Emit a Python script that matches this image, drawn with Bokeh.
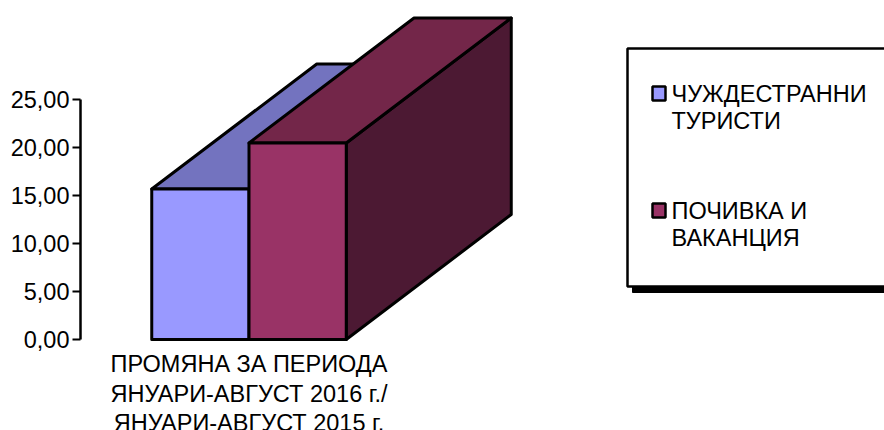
from bokeh.plotting import figure
from bokeh.models import Range1d, Label, BoxAnnotation, FixedTicker
from bokeh.embed import file_html
from bokeh.resources import INLINE

# Data
series_names = ["ЧУЖДЕСТРАННИ ТУРИСТИ", "ПОЧИВКА И ВАКАНЦИЯ"]
series_values = [15.68, 20.47]
front_colors = ["#9999FF", "#993366"]
top_colors = ["#7373BF", "#732649"]
side_colors = ["#4C264C", "#4C1933"]
tick_values = [0, 5, 10, 15, 20, 25]
tick_labels = ["0,00", "5,00", "10,00", "15,00", "20,00", "25,00"]
category_lines = ["ПРОМЯНА ЗА ПЕРИОДА", "ЯНУАРИ-АВГУСТ 2016 г./", "ЯНУАРИ-АВГУСТ 2015 г."]
legend_lines = [["ЧУЖДЕСТРАННИ", "ТУРИСТИ"], ["ПОЧИВКА И", "ВАКАНЦИЯ"]]

FONT = "Liberation Sans"
FS = "23.5px"
W, H = 884, 430
PX_X = 97.25     # px per bar width
PX_Y = 9.6       # px per value unit
X0, Y0 = 248.5, 339.0   # px of category centre / value zero
DX, DY = 165 / PX_X, 125 / PX_Y  # depth of the 3D projection in data units

FRAME_L = 80
p = figure(width=W, height=H, output_backend="svg", toolbar_location=None,
           x_range=Range1d((FRAME_L - X0) / PX_X, (W - X0) / PX_X),
           y_range=Range1d((Y0 - H) / PX_Y, Y0 / PX_Y),
           min_border_left=FRAME_L, min_border_right=0, min_border_top=0,
           min_border_bottom=0, outline_line_color=None)
p.background_fill_color = "white"
p.xgrid.visible = False
p.ygrid.visible = False
p.xaxis.visible = False

ax = p.yaxis[0]
ax.ticker = FixedTicker(ticks=tick_values)
ax.major_label_overrides = dict(zip(tick_values, tick_labels))
ax.bounds = (0, 25)
ax.axis_line_color = "black"
ax.axis_line_width = 2.5
ax.major_tick_line_color = "black"
ax.major_tick_line_width = 2
ax.major_tick_in = 0
ax.major_tick_out = 8
ax.minor_tick_line_color = None
ax.major_label_standoff = 3
ax.major_label_text_font = FONT
ax.major_label_text_font_size = FS
ax.major_label_text_color = "black"

# 3D bars: drawn back to front, each bar is a side, a top and a front face
for i, v in enumerate(series_values):
    l, r = i - 1, i
    style = dict(line_color="black", line_width=3, line_join="round")
    p.patch([r, r + DX, r + DX, r], [0, DY, v + DY, v], fill_color=side_colors[i], **style)
    p.patch([l, l + DX, r + DX, r], [v, v + DY, v + DY, v], fill_color=top_colors[i], **style)
    p.patch([l, r, r, l], [0, 0, v, v], fill_color=front_colors[i], **style)

def canvas_label(x, y, text, x_units="canvas", align="center"):
    p.add_layout(Label(x=x, y=y, x_units=x_units, y_units="canvas", text=text,
                       text_font=FONT, text_font_size=FS, text_color="black",
                       text_align=align, text_baseline="middle"))

# Category label below the bars
for line, y in zip(category_lines, [363, 393, 422]):
    canvas_label(0, y, line, x_units="data")

# Legend box
units = dict(left_units="canvas", right_units="canvas", top_units="canvas", bottom_units="canvas")
p.add_layout(BoxAnnotation(left=632, right=W + 20, top=54, bottom=292, fill_color="black", fill_alpha=1,
                           line_color="black", line_alpha=1, **units))
p.add_layout(BoxAnnotation(left=627, right=W + 20, top=48, bottom=286, fill_color="white", fill_alpha=1,
                           line_color="black", line_alpha=1, line_width=2.5, **units))

for color, lines, top, ys in zip(front_colors, legend_lines, [86, 203], [(93, 120), (210, 237)]):
    p.add_layout(BoxAnnotation(left=652, right=665, top=top, bottom=top + 14, fill_color=color, fill_alpha=1,
                               line_color="black", line_alpha=1, line_width=2.5, **units))
    for line, y in zip(lines, ys):
        canvas_label(671, y, line, align="left")

open("out.html", "w").write(file_html(p, INLINE))
